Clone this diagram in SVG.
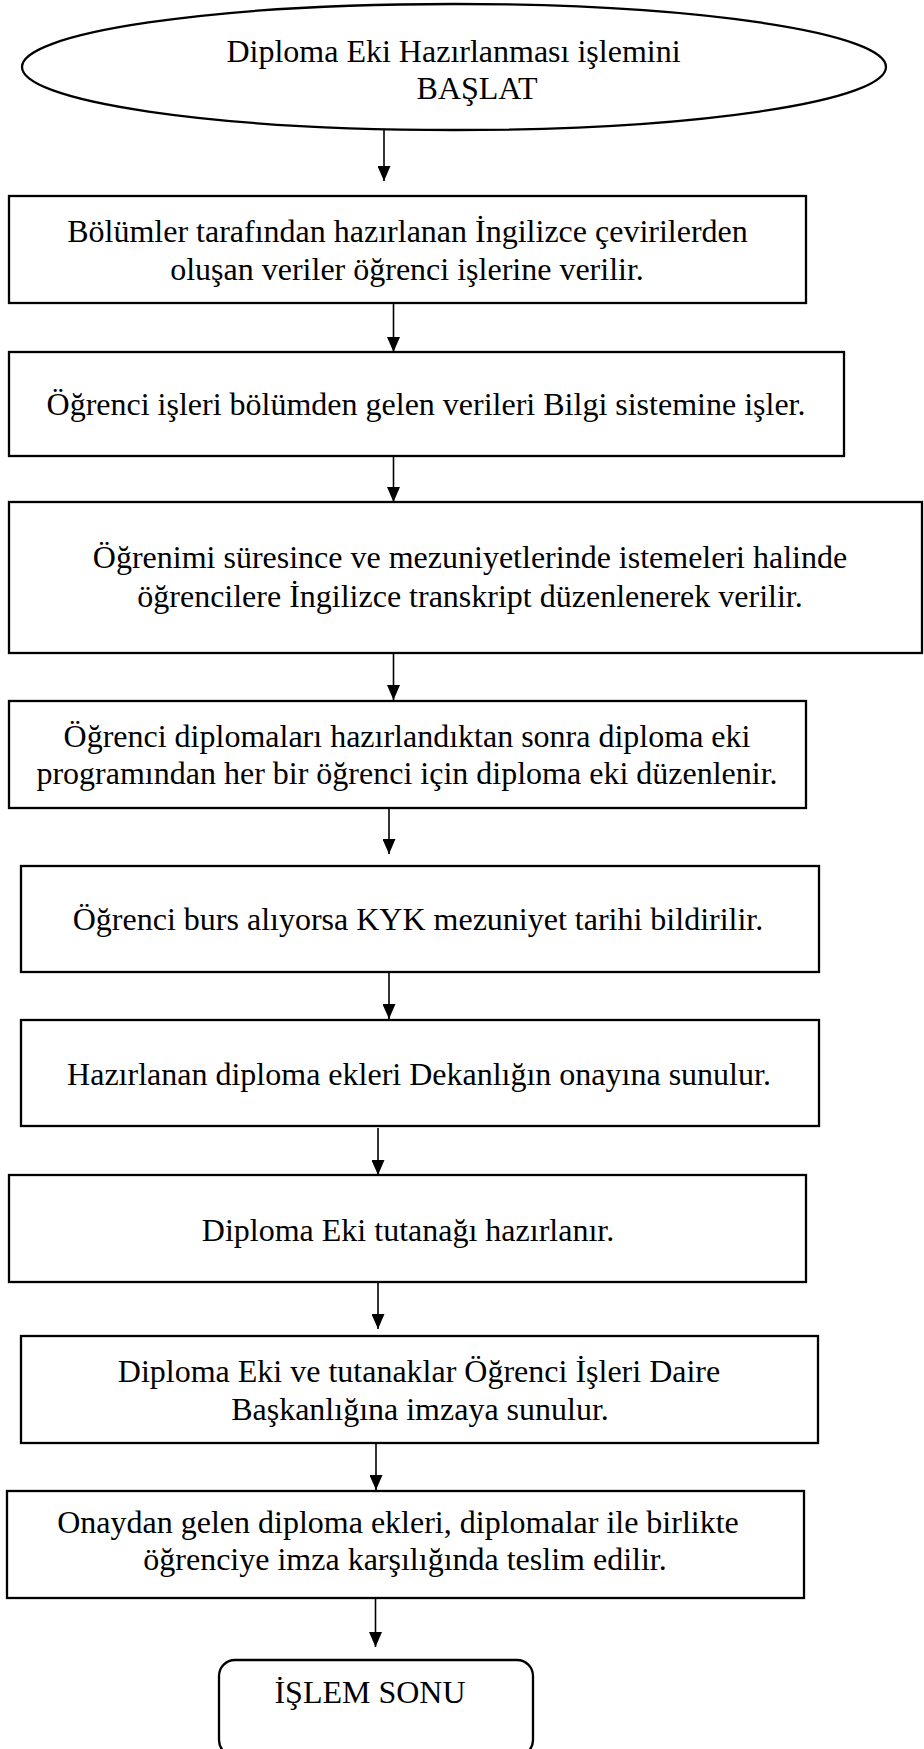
<svg xmlns="http://www.w3.org/2000/svg" width="924" height="1749" viewBox="0 0 924 1749">
  <defs>
    <style>
      .node { fill: #ffffff; stroke: #000000; stroke-width: 2.3; }
      .lbl { font-family: "Liberation Serif", "Times New Roman", serif; font-size: 32px; fill: #000000; text-anchor: middle; }
      .conn { stroke: #000000; stroke-width: 1.6; fill: none; marker-end: url(#arrow); }
    </style>
    <marker id="arrow" viewBox="0 0 15 13" refX="15" refY="6.5" markerWidth="15" markerHeight="13" markerUnits="userSpaceOnUse" orient="auto">
      <path d="M0,0 L15,6.5 L0,13 z" fill="#000000"/>
    </marker>
  </defs>
  <rect x="0" y="0" width="924" height="1749" fill="#ffffff"/>

  <!-- Start terminator -->
  <g id="start">
    <ellipse class="node" cx="454" cy="67" rx="432" ry="63"/>
    <text class="lbl" x="453.5" y="62">Diploma Eki Hazırlanması işlemini</text>
    <text class="lbl" x="477" y="99">BAŞLAT</text>
  </g>

  <!-- Process steps -->
  <g id="step1">
    <rect class="node" x="9" y="196" width="797" height="107"/>
    <text class="lbl" x="407.5" y="242">Bölümler tarafından hazırlanan İngilizce çevirilerden</text>
    <text class="lbl" x="407" y="280">oluşan veriler öğrenci işlerine verilir.</text>
  </g>

  <g id="step2">
    <rect class="node" x="9" y="352" width="835" height="104"/>
    <text class="lbl" x="426" y="415">Öğrenci işleri bölümden gelen verileri Bilgi sistemine işler.</text>
  </g>

  <g id="step3">
    <rect class="node" x="9" y="502" width="913" height="151"/>
    <text class="lbl" x="470" y="568">Öğrenimi süresince ve mezuniyetlerinde istemeleri halinde</text>
    <text class="lbl" x="470" y="607">öğrencilere İngilizce transkript düzenlenerek verilir.</text>
  </g>

  <g id="step4">
    <rect class="node" x="9" y="701" width="797" height="107"/>
    <text class="lbl" x="407" y="747">Öğrenci diplomaları hazırlandıktan sonra diploma eki</text>
    <text class="lbl" x="407" y="784">programından her bir öğrenci için diploma eki düzenlenir.</text>
  </g>

  <g id="step5">
    <rect class="node" x="21" y="866" width="798" height="106"/>
    <text class="lbl" x="418" y="930">Öğrenci burs alıyorsa KYK mezuniyet tarihi bildirilir.</text>
  </g>

  <g id="step6">
    <rect class="node" x="21" y="1020" width="798" height="106"/>
    <text class="lbl" x="419" y="1085">Hazırlanan diploma ekleri Dekanlığın onayına sunulur.</text>
  </g>

  <g id="step7">
    <rect class="node" x="9" y="1175" width="797" height="107"/>
    <text class="lbl" x="408" y="1241">Diploma Eki tutanağı hazırlanır.</text>
  </g>

  <g id="step8">
    <rect class="node" x="21" y="1336" width="797" height="107"/>
    <text class="lbl" x="419" y="1382">Diploma Eki ve tutanaklar Öğrenci İşleri Daire</text>
    <text class="lbl" x="420" y="1420">Başkanlığına imzaya sunulur.</text>
  </g>

  <g id="step9">
    <rect class="node" x="7" y="1491" width="797" height="107"/>
    <text class="lbl" x="398" y="1533">Onaydan gelen diploma ekleri, diplomalar ile birlikte</text>
    <text class="lbl" x="405" y="1570">öğrenciye imza karşılığında teslim edilir.</text>
  </g>

  <!-- End terminator -->
  <g id="end">
    <rect class="node" x="219" y="1660" width="314" height="96" rx="16" ry="16"/>
    <text class="lbl" x="370" y="1703">İŞLEM SONU</text>
  </g>

  <!-- Connectors -->
  <g id="connectors">
    <line class="conn" x1="384" y1="130" x2="384" y2="181"/>
    <line class="conn" x1="393.5" y1="303" x2="393.5" y2="352"/>
    <line class="conn" x1="393.5" y1="456" x2="393.5" y2="502"/>
    <line class="conn" x1="393.5" y1="653" x2="393.5" y2="700"/>
    <line class="conn" x1="389" y1="808" x2="389" y2="854"/>
    <line class="conn" x1="389" y1="972" x2="389" y2="1019"/>
    <line class="conn" x1="378" y1="1128" x2="378" y2="1175"/>
    <line class="conn" x1="378" y1="1282" x2="378" y2="1329"/>
    <line class="conn" x1="376" y1="1443" x2="376" y2="1490"/>
    <line class="conn" x1="375.5" y1="1598" x2="375.5" y2="1647"/>
  </g>
</svg>
